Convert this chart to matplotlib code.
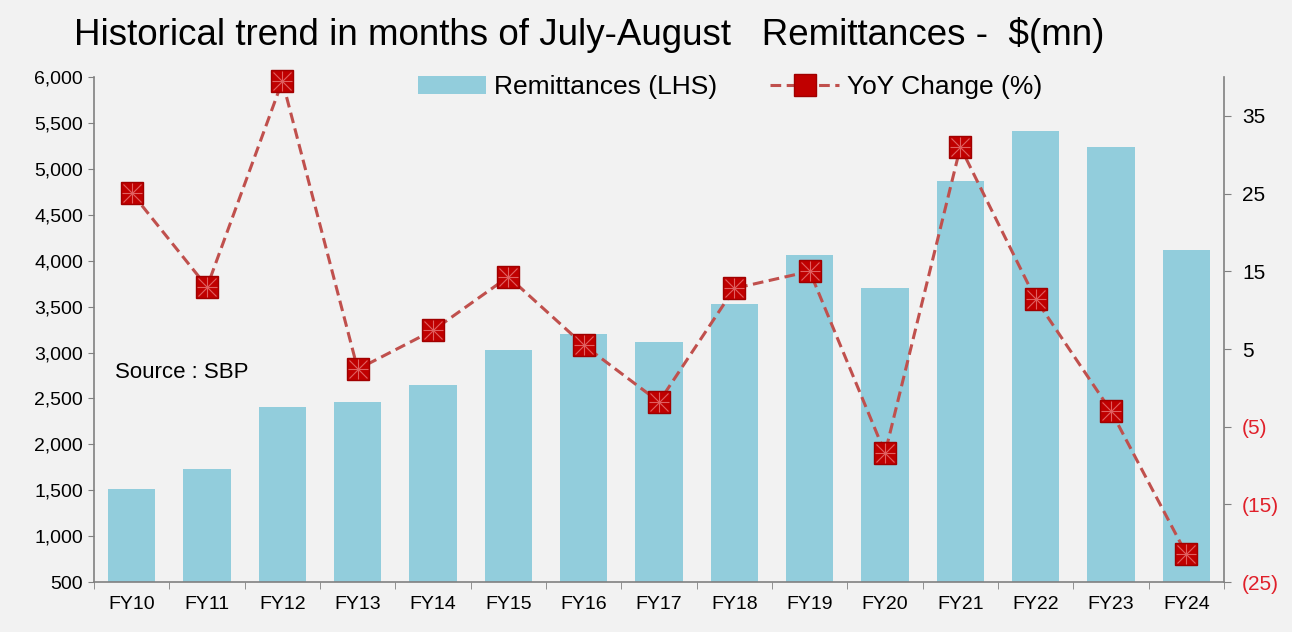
import numpy as np
import matplotlib
matplotlib.use("Agg")
import matplotlib.pyplot as plt
from matplotlib.ticker import FuncFormatter, FixedLocator

plt.rcParams['font.family'] = ['Liberation Sans', 'DejaVu Sans']

years = ['FY10', 'FY11', 'FY12', 'FY13', 'FY14', 'FY15', 'FY16', 'FY17',
         'FY18', 'FY19', 'FY20', 'FY21', 'FY22', 'FY23', 'FY24']
remit = [1513, 1731, 2406, 2461, 2646, 3027, 3202, 3114,
         3528, 4062, 3703, 4868, 5413, 5239, 4117]
yoy = [25.1, 13.0, 39.5, 2.4, 7.4, 14.3, 5.5, -1.8,
       12.8, 15.0, -8.4, 31.0, 11.4, -3.0, -21.4]

bg = '#f2f2f2'
bar_col = '#92cddc'
grey = '#808080'

fig = plt.figure(figsize=(12.92, 6.32), dpi=100, facecolor=bg)
ax = fig.add_axes([0.0728, 0.079, 0.8746, 0.799], facecolor=bg)
x = np.arange(len(years))

bars = ax.bar(x, remit, width=0.63, color=bar_col, zorder=2, label='Remittances (LHS)')
ax.set_ylim(500, 6000)
ax.set_xlim(-0.5, len(years) - 0.5)
ax.set_yticks(np.arange(500, 6001, 500))
ax.yaxis.set_major_formatter(FuncFormatter(lambda v, p: '{:,.0f}'.format(v)))
ax.set_xticks(x)
ax.set_xticklabels(years)
ax.xaxis.set_minor_locator(FixedLocator(np.arange(-0.5, len(years), 1.0)))
ax.tick_params(axis='x', which='major', length=0, pad=10, labelsize=14)
ax.tick_params(axis='x', which='minor', length=5, color=grey, direction='out')
ax.tick_params(axis='y', length=4, color=grey, labelsize=14, pad=4)
for s in ['top', 'right']:
    ax.spines[s].set_visible(False)
for s in ['left', 'bottom']:
    ax.spines[s].set_color(grey)
    ax.spines[s].set_linewidth(1.2)

ax2 = ax.twinx()
ax2.set_ylim(-25, 40)
ax2.set_yticks(np.arange(-25, 36, 10))


def pct_fmt(v, p):
    if v < 0:
        return '({:.0f})'.format(-v)
    return '{:.0f}'.format(v)


ax2.yaxis.set_major_formatter(FuncFormatter(pct_fmt))
ax2.tick_params(axis='y', length=5, color=grey, labelsize=15, pad=8)
for s in ['top', 'left', 'bottom']:
    ax2.spines[s].set_visible(False)
ax2.spines['right'].set_color(grey)
ax2.spines['right'].set_linewidth(1.2)
fig.canvas.draw()
for lab in ax2.get_yticklabels():
    if lab.get_text().startswith('('):
        lab.set_color('#e0202a')

line, = ax2.plot(x, yoy, color='#c0504d', linestyle=(0, (3.5, 1.8)), linewidth=2.2,
                 marker='s', markersize=16, markerfacecolor='#c00000',
                 markeredgecolor='#a00000', zorder=3, clip_on=False,
                 label='YoY Change (%)')
ax2.plot(x, yoy, linestyle='none', marker='x', markersize=13, color='#e06060',
         markeredgewidth=0.8, zorder=4, clip_on=False)
ax2.plot(x, yoy, linestyle='none', marker='+', markersize=15, color='#e06060',
         markeredgewidth=0.8, zorder=4, clip_on=False)

ax.text(0.0186, 0.416, 'Source : SBP', transform=ax.transAxes, fontsize=16,
        va='center', ha='left')

fig.legend([bars, line], ['Remittances (LHS)', 'YoY Change (%)'],
           loc='center', bbox_to_anchor=(0.565, 0.862), ncol=2, frameon=False,
           fontsize=19, handlelength=2.6, columnspacing=2.0, handletextpad=0.3)

fig.text(0.456, 0.945, 'Historical trend in months of July-August   Remittances -  $(mn)',
         ha='center', va='center', fontsize=26.5)

fig.savefig('out.png', dpi=100, facecolor=bg)
